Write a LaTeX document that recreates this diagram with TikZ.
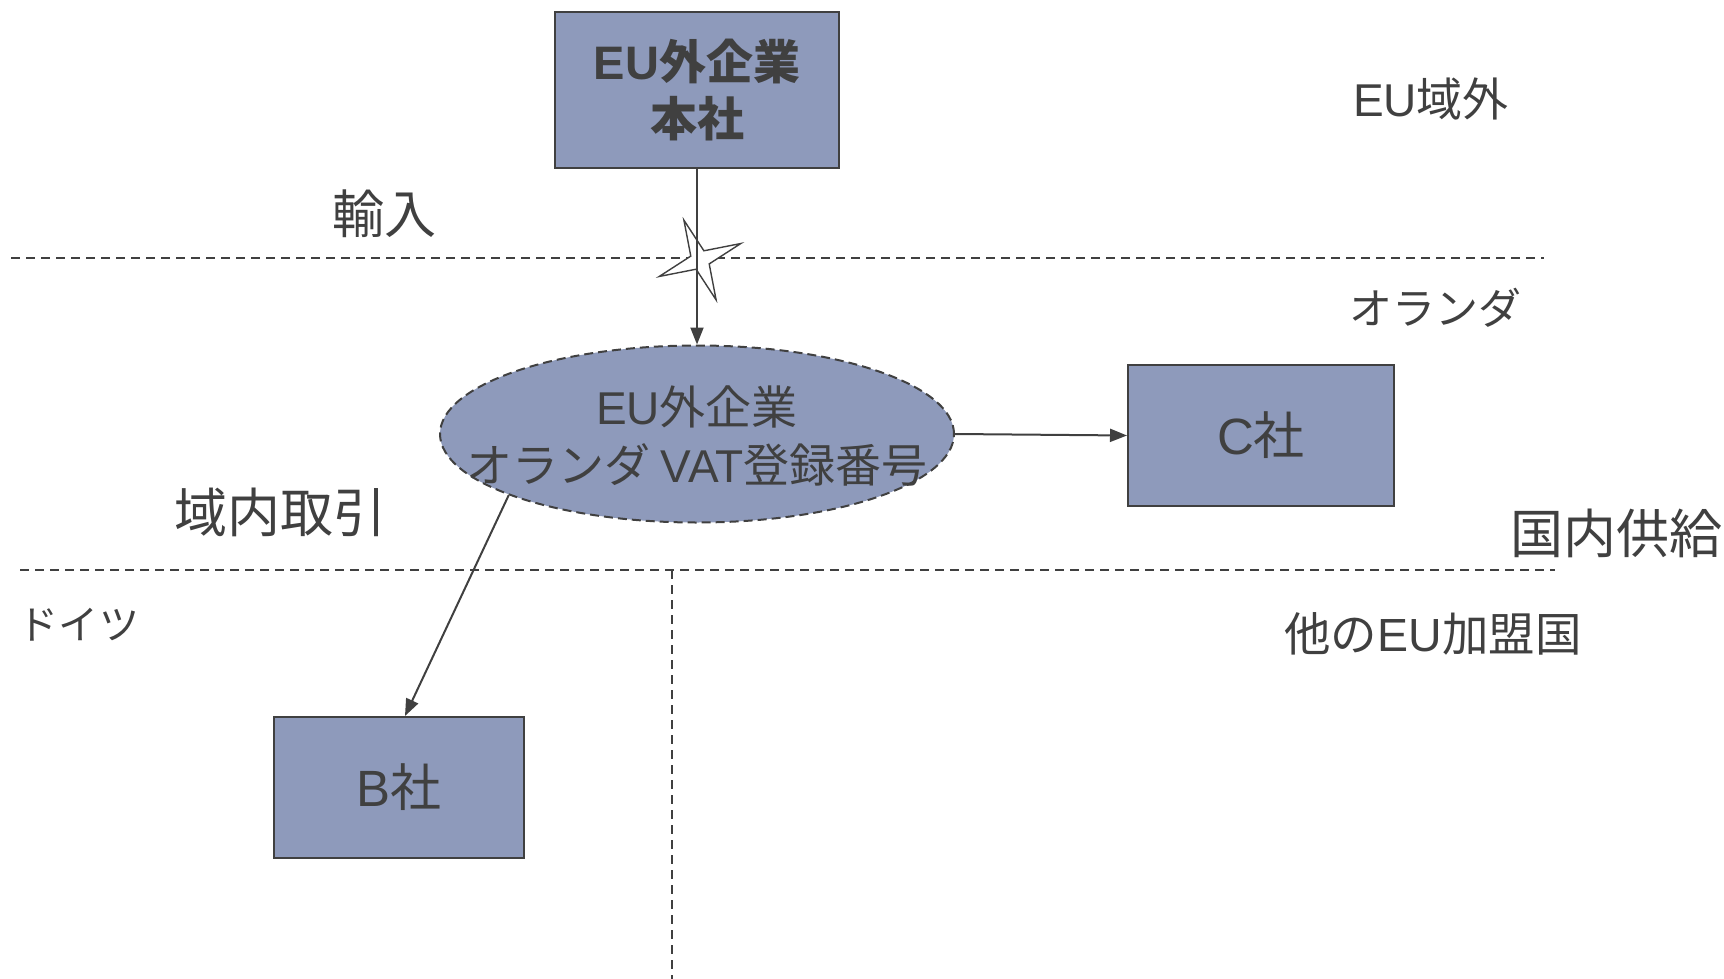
\documentclass[tikz,border=0pt]{standalone}
\usepackage{fontspec}
\setmainfont{Noto Sans CJK JP}
\newfontfamily\lat{Liberation Sans}
\usetikzlibrary{shapes.geometric,arrows.meta,calc}
\definecolor{txt}{HTML}{404040}
\definecolor{boxfill}{HTML}{8E9ABB}
\tikzset{
  box/.style={draw=txt, line width=2pt, fill=boxfill, rectangle, inner sep=0pt, align=center, text=txt},
  lbl/.style={text=txt, inner sep=0pt, font=\fontsize{44}{54}\selectfont},
  sep/.style={draw=txt, line width=1.8pt, dash pattern=on 9pt off 6pt},
  conn/.style={draw=txt, line width=2pt, -{Triangle[length=17pt,width=13pt]}},
}
\begin{document}
\begin{tikzpicture}[x=1pt,y=-1pt]
\useasboundingbox (0,0) rectangle (1724,979);
% separators
\coordinate (l1a) at (11,258);
\coordinate (l1b) at (1544,258);
\coordinate (l2a) at (20,570);
\coordinate (l2b) at (1555,570);
\coordinate (vt) at (672,570);
\coordinate (vb) at (672,979);
\draw[sep] (l1a) -- (l1b);
\draw[sep] (l2a) -- (l2b);
\draw[sep] (vt) -- (vb);
% nodes
\node[box, minimum width=284pt, minimum height=156pt, font=\fontsize{47}{57}\selectfont\bfseries] (hq) at (697,90) {{\lat EU}外企業\\本社};
\node[draw=txt, line width=2pt, fill=boxfill, ellipse, dash pattern=on 9pt off 5pt, minimum width=514pt, minimum height=177pt, inner sep=0pt] (ell) at (697,434) {};
\node[text=txt, align=center, inner sep=0pt, font=\fontsize{46}{58}\selectfont] (elltext) at (697,436) {{\lat EU}外企業\\オランダ {\lat VAT}登録番号};
\node[box, minimum width=266pt, minimum height=141pt, font=\fontsize{51}{56}\selectfont] (cbox) at (1261,435.5) {{\lat C}社};
\node[box, minimum width=250pt, minimum height=141pt, font=\fontsize{51}{56}\selectfont] (bbox) at (399,787.5) {{\lat B}社};
% star
\coordinate (s) at (700,260);
\draw[draw=txt, line width=1.4pt, fill=white]
  ($(s)+(-22:44)$) -- ($(s)+(23:10)$) -- ($(s)+(68:43)$) -- ($(s)+(113:10)$)
  -- ($(s)+(158:44)$) -- ($(s)+(203:10)$) -- ($(s)+(248:43)$) -- ($(s)+(293:10)$) -- cycle;
% connectors
\draw[conn] (hq) -- (ell);
\draw[conn] (ell.east) -- (cbox.west);
\draw[conn] (ell.198) -- ([xshift=6pt]bbox.north);
% labels
\node[lbl, font=\fontsize{46}{54}\selectfont] (euout) at (1431,99) {{\lat EU}域外};
\node[lbl, font=\fontsize{52}{56}\selectfont] (imp) at (384,214) {輸入};
\node[lbl, font=\fontsize{43}{54}\selectfont] (nl) at (1435,308) {オランダ};
\node[lbl, font=\fontsize{53}{56}\selectfont] (intra) at (280,512) {域内取引};
\node[lbl, font=\fontsize{53}{56}\selectfont] (dom) at (1616,533) {国内供給};
\node[lbl, font=\fontsize{40}{54}\selectfont] (de) at (79,625) {ドイツ};
\node[lbl, font=\fontsize{46.5}{54}\selectfont] (oth) at (1433,634) {他の{\lat EU}加盟国};
\end{tikzpicture}
\end{document}
